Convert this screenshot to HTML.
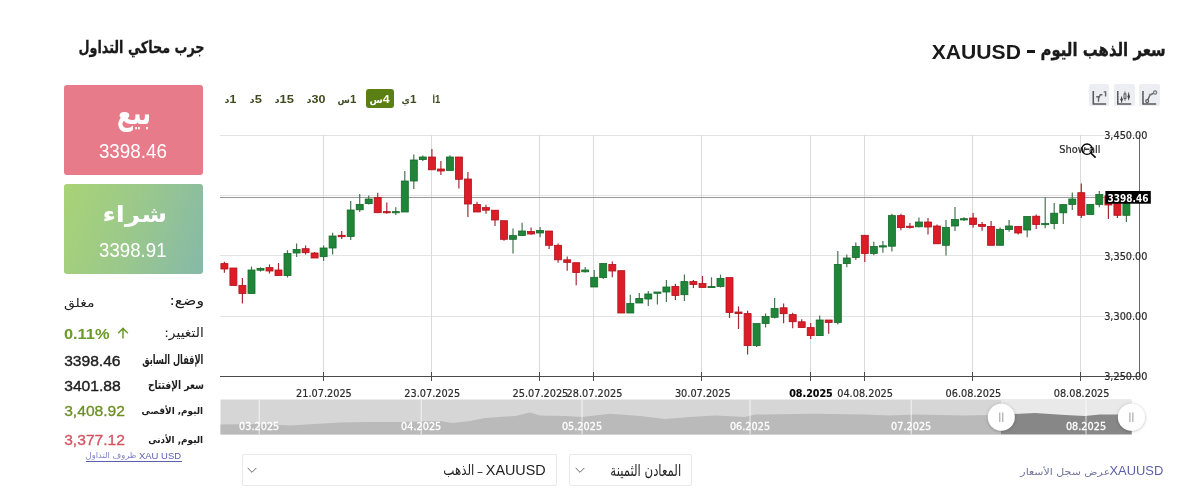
<!DOCTYPE html>
<html lang="ar">
<head>
<meta charset="utf-8">
<title>سعر الذهب اليوم - XAUUSD</title>
<style>
html,body{margin:0;padding:0;background:#fff;}
body{width:1200px;height:495px;position:relative;overflow:hidden;font-family:"Liberation Sans","DejaVu Sans",sans-serif;color:#1c1c1c;}
.abs{position:absolute;white-space:nowrap;line-height:1;}
svg text.ax{font-family:"DejaVu Sans",sans-serif;font-size:10.3px;fill:#2b2b2b;stroke:#2b2b2b;stroke-width:0.2px;}
svg text.b{font-weight:bold;fill:#000;}
svg text.pl{font-family:"DejaVu Sans",sans-serif;font-size:10.1px;font-weight:bold;fill:#fff;}
svg text.sl{font-family:"DejaVu Sans",sans-serif;font-size:10.3px;fill:#fff;stroke:#fff;stroke-width:0.3px;}
.box{position:absolute;left:64.3px;width:138.8px;height:90px;border-radius:3px;}
.sell{top:84.5px;background:#e87b89;}
.buy{top:183.5px;background:linear-gradient(108deg,#a9d376 0%,#9ac88c 50%,#86b9a9 100%);}
.tfa{position:absolute;left:365.5px;top:88.5px;width:28px;height:19.5px;border-radius:3px;background:#5b7f12;}
.ic{position:absolute;top:84.4px;width:20.5px;height:21.5px;background:#eceef3;border-radius:2px;}
.selbox{position:absolute;top:454px;height:29.5px;border:1px solid #e9e9e9;border-radius:2px;background:#fff;}
.ul{position:absolute;height:1px;background:#5a5fb4;}
</style>
</head>
<body>
<div class="box sell"></div>
<div class="box buy"></div>
<div class="tfa"></div>
<div class="abs" style="left:1027.3px;top:50.4px;width:8px;height:2.6px;background:#1a1a1a"></div>

<div class="ic" style="left:1088.7px"><svg width="20.5" height="21.5" viewBox="0 0 20.5 21.5" style="display:block"><path d="M4.3 7V20H17.2" fill="none" stroke="#5a5a5a" stroke-width="1.6"/><path d="M5.1 9h0.8M5.1 11.5h0.8M5.1 14h0.8M5.1 16.5h0.8" stroke="#eceef3" stroke-width="0.9"/><path d="M7.2 12.8H9.5V17.8M9.5 14.8L11.3 10.8H13.4M14.7 7.9H16.6V12.4" fill="none" stroke="#666" stroke-width="1.4"/></svg></div>
<div class="ic" style="left:1114.2px"><svg width="20.5" height="21.5" viewBox="0 0 20.5 21.5" style="display:block"><path d="M3.8 7V20H17.2" fill="none" stroke="#5a5a5a" stroke-width="1.6"/><path d="M4.6 9h0.8M4.6 11.5h0.8M4.6 14h0.8M4.6 16.5h0.8" stroke="#eceef3" stroke-width="0.9"/><path d="M7.6 12.4V18.8M11 7.4V16.8M14.7 8.4V16.2" stroke="#555" stroke-width="0.9"/><path d="M7.6 13L8.9 15.6L7.6 18.2L6.3 15.6Z" fill="#444"/><rect x="10" y="9.8" width="2" height="4.8" fill="#cfd1d6" stroke="#555" stroke-width="0.9"/><path d="M14.7 9.6L16 12.5L14.7 15.4L13.4 12.5Z" fill="#444"/></svg></div>
<div class="ic" style="left:1139.4px"><svg width="20.5" height="21.5" viewBox="0 0 20.5 21.5" style="display:block"><path d="M4.0 7V20H17.2" fill="none" stroke="#5a5a5a" stroke-width="1.6"/><path d="M4.8 9h0.8M4.8 11.5h0.8M4.8 14h0.8M4.8 16.5h0.8" stroke="#eceef3" stroke-width="0.9"/><path d="M8.2 17.1L11.1 10.8L16.1 8.6" fill="none" stroke="#666" stroke-width="1.5"/><circle cx="8.2" cy="17.1" r="1.5" fill="#e4e5ea" stroke="#555" stroke-width="1.1"/><rect x="9.9" y="9.8" width="2.4" height="2.2" fill="#888"/><circle cx="16.1" cy="8.6" r="1.7" fill="#d9dae0" stroke="#777" stroke-width="1.1"/></svg></div>

<svg class="abs" style="left:0;top:0" width="1200" height="495" viewBox="0 0 1200 495">
<defs><filter id="sh" x="-30%" y="-30%" width="160%" height="160%"><feDropShadow dx="0" dy="0.5" stdDeviation="1.5" flood-color="#000" flood-opacity="0.3"/></filter></defs>
<line x1="220" y1="135.5" x2="1139" y2="135.5" stroke="#e3e3e3" stroke-width="1"/>
<line x1="220" y1="195.5" x2="1139" y2="195.5" stroke="#e3e3e3" stroke-width="1"/>
<line x1="220" y1="255.5" x2="1139" y2="255.5" stroke="#e3e3e3" stroke-width="1"/>
<line x1="220" y1="316.5" x2="1139" y2="316.5" stroke="#e3e3e3" stroke-width="1"/>
<line x1="323.5" y1="135" x2="323.5" y2="377" stroke="#dadada" stroke-width="1"/>
<line x1="431.5" y1="135" x2="431.5" y2="377" stroke="#dadada" stroke-width="1"/>
<line x1="539.5" y1="135" x2="539.5" y2="377" stroke="#dadada" stroke-width="1"/>
<line x1="593.5" y1="135" x2="593.5" y2="377" stroke="#dadada" stroke-width="1"/>
<line x1="701.5" y1="135" x2="701.5" y2="377" stroke="#dadada" stroke-width="1"/>
<line x1="810.5" y1="135" x2="810.5" y2="377" stroke="#dadada" stroke-width="1"/>
<line x1="864.5" y1="135" x2="864.5" y2="377" stroke="#dadada" stroke-width="1"/>
<line x1="972.5" y1="135" x2="972.5" y2="377" stroke="#dadada" stroke-width="1"/>
<line x1="1080.5" y1="135" x2="1080.5" y2="377" stroke="#dadada" stroke-width="1"/>
<line x1="220" y1="197.5" x2="1106" y2="197.5" stroke="#9a9a9a" stroke-width="1"/>
<line x1="224.4" y1="261.8" x2="224.4" y2="272.7" stroke="#a62a38" stroke-width="1.2"/>
<rect x="220.9" y="263.6" width="7" height="5.4" fill="#dc1c26" stroke="#b0121c" stroke-width="0.8"/>
<line x1="233.4" y1="268" x2="233.4" y2="285.5" stroke="#a62a38" stroke-width="1.2"/>
<rect x="229.9" y="268" width="7" height="17.5" fill="#dc1c26" stroke="#b0121c" stroke-width="0.8"/>
<line x1="242.4" y1="278" x2="242.4" y2="303.6" stroke="#a62a38" stroke-width="1.2"/>
<rect x="238.9" y="285.5" width="7" height="8" fill="#dc1c26" stroke="#b0121c" stroke-width="0.8"/>
<line x1="251.5" y1="266.5" x2="251.5" y2="293.5" stroke="#4a7454" stroke-width="1.2"/>
<rect x="248" y="270" width="7" height="23.5" fill="#1f8538" stroke="#156a29" stroke-width="0.8"/>
<line x1="260.5" y1="267.3" x2="260.5" y2="271.6" stroke="#4a7454" stroke-width="1.2"/>
<rect x="257" y="268.4" width="7" height="1.8" fill="#1f8538" stroke="#156a29" stroke-width="0.8"/>
<line x1="269.5" y1="264.4" x2="269.5" y2="273.5" stroke="#a62a38" stroke-width="1.2"/>
<rect x="266" y="267.6" width="7" height="3.4" fill="#dc1c26" stroke="#b0121c" stroke-width="0.8"/>
<line x1="278.5" y1="263" x2="278.5" y2="275.6" stroke="#a62a38" stroke-width="1.2"/>
<rect x="275" y="270" width="7" height="5.6" fill="#dc1c26" stroke="#b0121c" stroke-width="0.8"/>
<line x1="287.5" y1="250.2" x2="287.5" y2="277.5" stroke="#4a7454" stroke-width="1.2"/>
<rect x="284" y="253.5" width="7" height="22.1" fill="#1f8538" stroke="#156a29" stroke-width="0.8"/>
<line x1="296.6" y1="243.6" x2="296.6" y2="257" stroke="#4a7454" stroke-width="1.2"/>
<rect x="293.1" y="249.5" width="7" height="3.5" fill="#1f8538" stroke="#156a29" stroke-width="0.8"/>
<line x1="305.6" y1="245.5" x2="305.6" y2="254.5" stroke="#a62a38" stroke-width="1.2"/>
<rect x="302.1" y="248.7" width="7" height="4" fill="#dc1c26" stroke="#b0121c" stroke-width="0.8"/>
<line x1="314.6" y1="252" x2="314.6" y2="258" stroke="#a62a38" stroke-width="1.2"/>
<rect x="311.1" y="253" width="7" height="5" fill="#dc1c26" stroke="#b0121c" stroke-width="0.8"/>
<line x1="323.6" y1="245.5" x2="323.6" y2="261" stroke="#4a7454" stroke-width="1.2"/>
<rect x="320.1" y="248" width="7" height="8.7" fill="#1f8538" stroke="#156a29" stroke-width="0.8"/>
<line x1="332.6" y1="232.7" x2="332.6" y2="254.5" stroke="#4a7454" stroke-width="1.2"/>
<rect x="329.1" y="236" width="7" height="12" fill="#1f8538" stroke="#156a29" stroke-width="0.8"/>
<line x1="341.7" y1="231" x2="341.7" y2="239" stroke="#a62a38" stroke-width="1.2"/>
<rect x="338.2" y="235.3" width="7" height="1.4" fill="#dc1c26" stroke="#b0121c" stroke-width="0.8"/>
<line x1="350.7" y1="201" x2="350.7" y2="240" stroke="#4a7454" stroke-width="1.2"/>
<rect x="347.2" y="210" width="7" height="26.4" fill="#1f8538" stroke="#156a29" stroke-width="0.8"/>
<line x1="359.7" y1="194" x2="359.7" y2="212" stroke="#4a7454" stroke-width="1.2"/>
<rect x="356.2" y="204.4" width="7" height="5.4" fill="#1f8538" stroke="#156a29" stroke-width="0.8"/>
<line x1="368.7" y1="195.6" x2="368.7" y2="204.4" stroke="#4a7454" stroke-width="1.2"/>
<rect x="365.2" y="199" width="7" height="4.6" fill="#1f8538" stroke="#156a29" stroke-width="0.8"/>
<line x1="377.7" y1="192.7" x2="377.7" y2="212.7" stroke="#a62a38" stroke-width="1.2"/>
<rect x="374.2" y="197.5" width="7" height="15.2" fill="#dc1c26" stroke="#b0121c" stroke-width="0.8"/>
<line x1="386.8" y1="202.5" x2="386.8" y2="213.8" stroke="#a62a38" stroke-width="1.2"/>
<rect x="383.3" y="211.6" width="7" height="1.2" fill="#dc1c26" stroke="#b0121c" stroke-width="0.8"/>
<line x1="395.8" y1="207.3" x2="395.8" y2="215" stroke="#4a7454" stroke-width="1.2"/>
<rect x="392.3" y="211.6" width="7" height="1.2" fill="#1f8538" stroke="#156a29" stroke-width="0.8"/>
<line x1="404.8" y1="171" x2="404.8" y2="212" stroke="#4a7454" stroke-width="1.2"/>
<rect x="401.3" y="181" width="7" height="31" fill="#1f8538" stroke="#156a29" stroke-width="0.8"/>
<line x1="413.8" y1="154.5" x2="413.8" y2="189" stroke="#4a7454" stroke-width="1.2"/>
<rect x="410.3" y="160" width="7" height="21" fill="#1f8538" stroke="#156a29" stroke-width="0.8"/>
<line x1="422.8" y1="155.6" x2="422.8" y2="161" stroke="#4a7454" stroke-width="1.2"/>
<rect x="419.3" y="157" width="7" height="2.6" fill="#1f8538" stroke="#156a29" stroke-width="0.8"/>
<line x1="431.9" y1="149" x2="431.9" y2="169.8" stroke="#a62a38" stroke-width="1.2"/>
<rect x="428.4" y="157" width="7" height="12.8" fill="#dc1c26" stroke="#b0121c" stroke-width="0.8"/>
<line x1="440.9" y1="161" x2="440.9" y2="175" stroke="#a62a38" stroke-width="1.2"/>
<rect x="437.4" y="169" width="7" height="2" fill="#dc1c26" stroke="#b0121c" stroke-width="0.8"/>
<line x1="449.9" y1="155.3" x2="449.9" y2="170.5" stroke="#4a7454" stroke-width="1.2"/>
<rect x="446.4" y="157" width="7" height="13.5" fill="#1f8538" stroke="#156a29" stroke-width="0.8"/>
<line x1="458.9" y1="157" x2="458.9" y2="188.4" stroke="#a62a38" stroke-width="1.2"/>
<rect x="455.4" y="157" width="7" height="22.3" fill="#dc1c26" stroke="#b0121c" stroke-width="0.8"/>
<line x1="467.9" y1="172" x2="467.9" y2="217" stroke="#a62a38" stroke-width="1.2"/>
<rect x="464.4" y="179" width="7" height="25" fill="#dc1c26" stroke="#b0121c" stroke-width="0.8"/>
<line x1="477" y1="201.8" x2="477" y2="212" stroke="#a62a38" stroke-width="1.2"/>
<rect x="473.5" y="204.4" width="7" height="7.6" fill="#dc1c26" stroke="#b0121c" stroke-width="0.8"/>
<line x1="486" y1="204.7" x2="486" y2="213.8" stroke="#a62a38" stroke-width="1.2"/>
<rect x="482.5" y="207.6" width="7" height="2.6" fill="#dc1c26" stroke="#b0121c" stroke-width="0.8"/>
<line x1="495" y1="210.2" x2="495" y2="226" stroke="#a62a38" stroke-width="1.2"/>
<rect x="491.5" y="210.2" width="7" height="9.8" fill="#dc1c26" stroke="#b0121c" stroke-width="0.8"/>
<line x1="504" y1="220.7" x2="504" y2="240.7" stroke="#a62a38" stroke-width="1.2"/>
<rect x="500.5" y="220.7" width="7" height="18.6" fill="#dc1c26" stroke="#b0121c" stroke-width="0.8"/>
<line x1="513" y1="228.4" x2="513" y2="253.5" stroke="#4a7454" stroke-width="1.2"/>
<rect x="509.5" y="235.6" width="7" height="3.7" fill="#1f8538" stroke="#156a29" stroke-width="0.8"/>
<line x1="522.1" y1="222.7" x2="522.1" y2="236" stroke="#4a7454" stroke-width="1.2"/>
<rect x="518.6" y="231" width="7" height="4.5" fill="#1f8538" stroke="#156a29" stroke-width="0.8"/>
<line x1="531.1" y1="227.5" x2="531.1" y2="234.7" stroke="#a62a38" stroke-width="1.2"/>
<rect x="527.6" y="231.5" width="7" height="2.5" fill="#dc1c26" stroke="#b0121c" stroke-width="0.8"/>
<line x1="540.1" y1="227" x2="540.1" y2="237.3" stroke="#4a7454" stroke-width="1.2"/>
<rect x="536.6" y="230.4" width="7" height="2.6" fill="#1f8538" stroke="#156a29" stroke-width="0.8"/>
<line x1="549.1" y1="231" x2="549.1" y2="249" stroke="#a62a38" stroke-width="1.2"/>
<rect x="545.6" y="231" width="7" height="14.3" fill="#dc1c26" stroke="#b0121c" stroke-width="0.8"/>
<line x1="558.1" y1="243.5" x2="558.1" y2="262.7" stroke="#a62a38" stroke-width="1.2"/>
<rect x="554.6" y="245.3" width="7" height="14.5" fill="#dc1c26" stroke="#b0121c" stroke-width="0.8"/>
<line x1="567.2" y1="256.5" x2="567.2" y2="270.7" stroke="#a62a38" stroke-width="1.2"/>
<rect x="563.7" y="259.8" width="7" height="2.6" fill="#dc1c26" stroke="#b0121c" stroke-width="0.8"/>
<line x1="576.2" y1="262.7" x2="576.2" y2="285.3" stroke="#a62a38" stroke-width="1.2"/>
<rect x="572.7" y="262.7" width="7" height="9.8" fill="#dc1c26" stroke="#b0121c" stroke-width="0.8"/>
<line x1="585.2" y1="267" x2="585.2" y2="272.5" stroke="#4a7454" stroke-width="1.2"/>
<rect x="581.7" y="270" width="7" height="1.8" fill="#1f8538" stroke="#156a29" stroke-width="0.8"/>
<line x1="594.2" y1="270" x2="594.2" y2="287" stroke="#4a7454" stroke-width="1.2"/>
<rect x="590.7" y="277.3" width="7" height="9.7" fill="#1f8538" stroke="#156a29" stroke-width="0.8"/>
<line x1="603.2" y1="263.5" x2="603.2" y2="279" stroke="#4a7454" stroke-width="1.2"/>
<rect x="599.7" y="263.5" width="7" height="14.1" fill="#1f8538" stroke="#156a29" stroke-width="0.8"/>
<line x1="612.3" y1="261.6" x2="612.3" y2="277.3" stroke="#a62a38" stroke-width="1.2"/>
<rect x="608.8" y="264.5" width="7" height="6.5" fill="#dc1c26" stroke="#b0121c" stroke-width="0.8"/>
<line x1="621.3" y1="270.7" x2="621.3" y2="313" stroke="#a62a38" stroke-width="1.2"/>
<rect x="617.8" y="270.7" width="7" height="42.3" fill="#dc1c26" stroke="#b0121c" stroke-width="0.8"/>
<line x1="630.3" y1="294.7" x2="630.3" y2="313" stroke="#4a7454" stroke-width="1.2"/>
<rect x="626.8" y="303.5" width="7" height="9.5" fill="#1f8538" stroke="#156a29" stroke-width="0.8"/>
<line x1="639.3" y1="293" x2="639.3" y2="303" stroke="#4a7454" stroke-width="1.2"/>
<rect x="635.8" y="298.4" width="7" height="4.6" fill="#1f8538" stroke="#156a29" stroke-width="0.8"/>
<line x1="648.3" y1="291" x2="648.3" y2="306" stroke="#4a7454" stroke-width="1.2"/>
<rect x="644.8" y="294" width="7" height="5" fill="#1f8538" stroke="#156a29" stroke-width="0.8"/>
<line x1="657.4" y1="292" x2="657.4" y2="304.5" stroke="#4a7454" stroke-width="1.2"/>
<rect x="653.9" y="292" width="7" height="1.3" fill="#1f8538" stroke="#156a29" stroke-width="0.8"/>
<line x1="666.4" y1="280" x2="666.4" y2="302" stroke="#4a7454" stroke-width="1.2"/>
<rect x="662.9" y="287" width="7" height="5" fill="#1f8538" stroke="#156a29" stroke-width="0.8"/>
<line x1="675.4" y1="283.8" x2="675.4" y2="300" stroke="#a62a38" stroke-width="1.2"/>
<rect x="671.9" y="286.4" width="7" height="9.1" fill="#dc1c26" stroke="#b0121c" stroke-width="0.8"/>
<line x1="684.4" y1="274.4" x2="684.4" y2="301" stroke="#4a7454" stroke-width="1.2"/>
<rect x="680.9" y="281.6" width="7" height="13.1" fill="#1f8538" stroke="#156a29" stroke-width="0.8"/>
<line x1="693.4" y1="280" x2="693.4" y2="288" stroke="#a62a38" stroke-width="1.2"/>
<rect x="689.9" y="281.6" width="7" height="2.9" fill="#dc1c26" stroke="#b0121c" stroke-width="0.8"/>
<line x1="702.5" y1="276" x2="702.5" y2="287.5" stroke="#a62a38" stroke-width="1.2"/>
<rect x="699" y="283.5" width="7" height="4" fill="#dc1c26" stroke="#b0121c" stroke-width="0.8"/>
<line x1="711.5" y1="277.3" x2="711.5" y2="287.5" stroke="#4a7454" stroke-width="1.2"/>
<rect x="708" y="286.4" width="7" height="1.2" fill="#1f8538" stroke="#156a29" stroke-width="0.8"/>
<line x1="720.5" y1="274.7" x2="720.5" y2="287.5" stroke="#4a7454" stroke-width="1.2"/>
<rect x="717" y="278.4" width="7" height="8" fill="#1f8538" stroke="#156a29" stroke-width="0.8"/>
<line x1="729.5" y1="277.6" x2="729.5" y2="318" stroke="#a62a38" stroke-width="1.2"/>
<rect x="726" y="277.6" width="7" height="34.9" fill="#dc1c26" stroke="#b0121c" stroke-width="0.8"/>
<line x1="738.5" y1="306.4" x2="738.5" y2="329" stroke="#a62a38" stroke-width="1.2"/>
<rect x="735" y="312" width="7" height="1.6" fill="#dc1c26" stroke="#b0121c" stroke-width="0.8"/>
<line x1="747.6" y1="310.7" x2="747.6" y2="354.4" stroke="#a62a38" stroke-width="1.2"/>
<rect x="744.1" y="313.6" width="7" height="32" fill="#dc1c26" stroke="#b0121c" stroke-width="0.8"/>
<line x1="756.6" y1="323.5" x2="756.6" y2="347" stroke="#4a7454" stroke-width="1.2"/>
<rect x="753.1" y="323.5" width="7" height="22.1" fill="#1f8538" stroke="#156a29" stroke-width="0.8"/>
<line x1="765.6" y1="313.6" x2="765.6" y2="327.5" stroke="#4a7454" stroke-width="1.2"/>
<rect x="762.1" y="316.5" width="7" height="7" fill="#1f8538" stroke="#156a29" stroke-width="0.8"/>
<line x1="774.6" y1="298" x2="774.6" y2="318.4" stroke="#4a7454" stroke-width="1.2"/>
<rect x="771.1" y="308.5" width="7" height="8.8" fill="#1f8538" stroke="#156a29" stroke-width="0.8"/>
<line x1="783.6" y1="303.5" x2="783.6" y2="323.2" stroke="#a62a38" stroke-width="1.2"/>
<rect x="780.1" y="307.8" width="7" height="5.9" fill="#dc1c26" stroke="#b0121c" stroke-width="0.8"/>
<line x1="792.7" y1="312.7" x2="792.7" y2="328.2" stroke="#a62a38" stroke-width="1.2"/>
<rect x="789.2" y="314.6" width="7" height="7.1" fill="#dc1c26" stroke="#b0121c" stroke-width="0.8"/>
<line x1="801.7" y1="319.3" x2="801.7" y2="327.6" stroke="#a62a38" stroke-width="1.2"/>
<rect x="798.2" y="321.8" width="7" height="5.8" fill="#dc1c26" stroke="#b0121c" stroke-width="0.8"/>
<line x1="810.7" y1="323" x2="810.7" y2="339" stroke="#a62a38" stroke-width="1.2"/>
<rect x="807.2" y="327.6" width="7" height="8" fill="#dc1c26" stroke="#b0121c" stroke-width="0.8"/>
<line x1="819.7" y1="315.6" x2="819.7" y2="335.6" stroke="#4a7454" stroke-width="1.2"/>
<rect x="816.2" y="320" width="7" height="15.6" fill="#1f8538" stroke="#156a29" stroke-width="0.8"/>
<line x1="828.7" y1="320" x2="828.7" y2="333.8" stroke="#a62a38" stroke-width="1.2"/>
<rect x="825.2" y="320" width="7" height="2.5" fill="#dc1c26" stroke="#b0121c" stroke-width="0.8"/>
<line x1="837.8" y1="251" x2="837.8" y2="324.4" stroke="#4a7454" stroke-width="1.2"/>
<rect x="834.3" y="264.4" width="7" height="58.1" fill="#1f8538" stroke="#156a29" stroke-width="0.8"/>
<line x1="846.8" y1="254.5" x2="846.8" y2="267.3" stroke="#4a7454" stroke-width="1.2"/>
<rect x="843.3" y="258" width="7" height="5.6" fill="#1f8538" stroke="#156a29" stroke-width="0.8"/>
<line x1="855.8" y1="242.5" x2="855.8" y2="260" stroke="#4a7454" stroke-width="1.2"/>
<rect x="852.3" y="246.5" width="7" height="11" fill="#1f8538" stroke="#156a29" stroke-width="0.8"/>
<line x1="864.8" y1="235.3" x2="864.8" y2="262" stroke="#a62a38" stroke-width="1.2"/>
<rect x="861.3" y="235.3" width="7" height="18.2" fill="#dc1c26" stroke="#b0121c" stroke-width="0.8"/>
<line x1="873.8" y1="241.8" x2="873.8" y2="255.3" stroke="#4a7454" stroke-width="1.2"/>
<rect x="870.3" y="246.5" width="7" height="7" fill="#1f8538" stroke="#156a29" stroke-width="0.8"/>
<line x1="882.9" y1="241" x2="882.9" y2="252.7" stroke="#4a7454" stroke-width="1.2"/>
<rect x="879.4" y="245.8" width="7" height="1.2" fill="#1f8538" stroke="#156a29" stroke-width="0.8"/>
<line x1="891.9" y1="213.8" x2="891.9" y2="251.6" stroke="#4a7454" stroke-width="1.2"/>
<rect x="888.4" y="215.6" width="7" height="30.6" fill="#1f8538" stroke="#156a29" stroke-width="0.8"/>
<line x1="900.9" y1="213.8" x2="900.9" y2="230.2" stroke="#a62a38" stroke-width="1.2"/>
<rect x="897.4" y="215.6" width="7" height="12" fill="#dc1c26" stroke="#b0121c" stroke-width="0.8"/>
<line x1="909.9" y1="223" x2="909.9" y2="228.4" stroke="#a62a38" stroke-width="1.2"/>
<rect x="906.4" y="226.2" width="7" height="1.2" fill="#dc1c26" stroke="#b0121c" stroke-width="0.8"/>
<line x1="918.9" y1="217.5" x2="918.9" y2="227.3" stroke="#4a7454" stroke-width="1.2"/>
<rect x="915.4" y="222" width="7" height="4.8" fill="#1f8538" stroke="#156a29" stroke-width="0.8"/>
<line x1="928" y1="218" x2="928" y2="234.6" stroke="#a62a38" stroke-width="1.2"/>
<rect x="924.5" y="222" width="7" height="5" fill="#dc1c26" stroke="#b0121c" stroke-width="0.8"/>
<line x1="937" y1="224.5" x2="937" y2="243.8" stroke="#a62a38" stroke-width="1.2"/>
<rect x="933.5" y="226" width="7" height="17.8" fill="#dc1c26" stroke="#b0121c" stroke-width="0.8"/>
<line x1="946" y1="220" x2="946" y2="255.5" stroke="#4a7454" stroke-width="1.2"/>
<rect x="942.5" y="227.5" width="7" height="17.8" fill="#1f8538" stroke="#156a29" stroke-width="0.8"/>
<line x1="955" y1="207" x2="955" y2="231" stroke="#4a7454" stroke-width="1.2"/>
<rect x="951.5" y="219.5" width="7" height="6.5" fill="#1f8538" stroke="#156a29" stroke-width="0.8"/>
<line x1="964" y1="217.3" x2="964" y2="221" stroke="#4a7454" stroke-width="1.2"/>
<rect x="960.5" y="218.7" width="7" height="1.2" fill="#1f8538" stroke="#156a29" stroke-width="0.8"/>
<line x1="973.1" y1="213" x2="973.1" y2="227.5" stroke="#a62a38" stroke-width="1.2"/>
<rect x="969.6" y="218" width="7" height="6.5" fill="#dc1c26" stroke="#b0121c" stroke-width="0.8"/>
<line x1="982.1" y1="222" x2="982.1" y2="230.7" stroke="#a62a38" stroke-width="1.2"/>
<rect x="978.6" y="224.5" width="7" height="1.9" fill="#dc1c26" stroke="#b0121c" stroke-width="0.8"/>
<line x1="991.1" y1="221" x2="991.1" y2="245.3" stroke="#a62a38" stroke-width="1.2"/>
<rect x="987.6" y="226.4" width="7" height="18.9" fill="#dc1c26" stroke="#b0121c" stroke-width="0.8"/>
<line x1="1000.1" y1="227.5" x2="1000.1" y2="245.3" stroke="#4a7454" stroke-width="1.2"/>
<rect x="996.6" y="229.3" width="7" height="16" fill="#1f8538" stroke="#156a29" stroke-width="0.8"/>
<line x1="1009.1" y1="220" x2="1009.1" y2="231.8" stroke="#4a7454" stroke-width="1.2"/>
<rect x="1005.6" y="226" width="7" height="3.6" fill="#1f8538" stroke="#156a29" stroke-width="0.8"/>
<line x1="1018.2" y1="226.4" x2="1018.2" y2="234.4" stroke="#a62a38" stroke-width="1.2"/>
<rect x="1014.7" y="226.4" width="7" height="6.6" fill="#dc1c26" stroke="#b0121c" stroke-width="0.8"/>
<line x1="1027.2" y1="216.5" x2="1027.2" y2="237.3" stroke="#4a7454" stroke-width="1.2"/>
<rect x="1023.7" y="216.5" width="7" height="13.5" fill="#1f8538" stroke="#156a29" stroke-width="0.8"/>
<line x1="1036.2" y1="214.4" x2="1036.2" y2="229" stroke="#a62a38" stroke-width="1.2"/>
<rect x="1032.7" y="216.2" width="7" height="8.3" fill="#dc1c26" stroke="#b0121c" stroke-width="0.8"/>
<line x1="1045.2" y1="197.3" x2="1045.2" y2="228.2" stroke="#4a7454" stroke-width="1.2"/>
<rect x="1041.7" y="223.5" width="7" height="1.2" fill="#1f8538" stroke="#156a29" stroke-width="0.8"/>
<line x1="1054.2" y1="203" x2="1054.2" y2="229.2" stroke="#4a7454" stroke-width="1.2"/>
<rect x="1050.7" y="213.2" width="7" height="10.4" fill="#1f8538" stroke="#156a29" stroke-width="0.8"/>
<line x1="1063.3" y1="204.6" x2="1063.3" y2="224" stroke="#4a7454" stroke-width="1.2"/>
<rect x="1059.8" y="204.6" width="7" height="8.2" fill="#1f8538" stroke="#156a29" stroke-width="0.8"/>
<line x1="1072.3" y1="192.6" x2="1072.3" y2="210" stroke="#4a7454" stroke-width="1.2"/>
<rect x="1068.8" y="199" width="7" height="5.4" fill="#1f8538" stroke="#156a29" stroke-width="0.8"/>
<line x1="1081.3" y1="183.6" x2="1081.3" y2="218" stroke="#a62a38" stroke-width="1.2"/>
<rect x="1077.8" y="192.7" width="7" height="22.6" fill="#dc1c26" stroke="#b0121c" stroke-width="0.8"/>
<line x1="1090.3" y1="204.4" x2="1090.3" y2="214.5" stroke="#4a7454" stroke-width="1.2"/>
<rect x="1086.8" y="204.4" width="7" height="10.1" fill="#1f8538" stroke="#156a29" stroke-width="0.8"/>
<line x1="1099.3" y1="191" x2="1099.3" y2="207.3" stroke="#4a7454" stroke-width="1.2"/>
<rect x="1095.8" y="194.5" width="7" height="9.9" fill="#1f8538" stroke="#156a29" stroke-width="0.8"/>
<line x1="1108.4" y1="196" x2="1108.4" y2="219" stroke="#a62a38" stroke-width="1.2"/>
<rect x="1104.9" y="196" width="7" height="9" fill="#dc1c26" stroke="#b0121c" stroke-width="0.8"/>
<line x1="1117.4" y1="203.6" x2="1117.4" y2="218" stroke="#a62a38" stroke-width="1.2"/>
<rect x="1113.9" y="203.6" width="7" height="11.7" fill="#dc1c26" stroke="#b0121c" stroke-width="0.8"/>
<line x1="1126.4" y1="203.6" x2="1126.4" y2="222" stroke="#4a7454" stroke-width="1.2"/>
<rect x="1122.9" y="203.6" width="7" height="11.7" fill="#1f8538" stroke="#156a29" stroke-width="0.8"/>
<line x1="220" y1="376.5" x2="1140" y2="376.5" stroke="#4a4a4a" stroke-width="1"/>
<line x1="1139.5" y1="135" x2="1139.5" y2="377" stroke="#6a6a6a" stroke-width="1"/>
<line x1="323.5" y1="372" x2="323.5" y2="381" stroke="#4a4a4a" stroke-width="1"/>
<line x1="431.5" y1="372" x2="431.5" y2="381" stroke="#4a4a4a" stroke-width="1"/>
<line x1="539.5" y1="372" x2="539.5" y2="381" stroke="#4a4a4a" stroke-width="1"/>
<line x1="593.5" y1="372" x2="593.5" y2="381" stroke="#4a4a4a" stroke-width="1"/>
<line x1="701.5" y1="372" x2="701.5" y2="381" stroke="#4a4a4a" stroke-width="1"/>
<line x1="810.5" y1="372" x2="810.5" y2="381" stroke="#4a4a4a" stroke-width="1"/>
<line x1="864.5" y1="372" x2="864.5" y2="381" stroke="#4a4a4a" stroke-width="1"/>
<line x1="972.5" y1="372" x2="972.5" y2="381" stroke="#4a4a4a" stroke-width="1"/>
<line x1="1080.5" y1="372" x2="1080.5" y2="381" stroke="#4a4a4a" stroke-width="1"/>
<text x="1147.5" y="139.29999999999998" text-anchor="end" textLength="43.3" lengthAdjust="spacingAndGlyphs" class="ax">3,450.00</text>
<text x="1147.5" y="259.7" text-anchor="end" textLength="43.3" lengthAdjust="spacingAndGlyphs" class="ax">3,350.00</text>
<text x="1147.5" y="320.09999999999997" text-anchor="end" textLength="43.3" lengthAdjust="spacingAndGlyphs" class="ax">3,300.00</text>
<text x="1147.5" y="380.3" text-anchor="end" textLength="43.3" lengthAdjust="spacingAndGlyphs" class="ax">3,250.00</text>
<text x="323.9" y="397" text-anchor="middle" textLength="55.8" lengthAdjust="spacingAndGlyphs" class="ax">21.07.2025</text>
<text x="432.2" y="397" text-anchor="middle" textLength="55.8" lengthAdjust="spacingAndGlyphs" class="ax">23.07.2025</text>
<text x="540.4" y="397" text-anchor="middle" textLength="55.8" lengthAdjust="spacingAndGlyphs" class="ax">25.07.2025</text>
<text x="594.5" y="397" text-anchor="middle" textLength="55.8" lengthAdjust="spacingAndGlyphs" class="ax">28.07.2025</text>
<text x="702.8" y="397" text-anchor="middle" textLength="55.8" lengthAdjust="spacingAndGlyphs" class="ax">30.07.2025</text>
<text x="811" y="397" text-anchor="middle" textLength="43.6" lengthAdjust="spacingAndGlyphs" class="ax b">08.2025</text>
<text x="865.1" y="397" text-anchor="middle" textLength="55.8" lengthAdjust="spacingAndGlyphs" class="ax">04.08.2025</text>
<text x="973.4" y="397" text-anchor="middle" textLength="55.8" lengthAdjust="spacingAndGlyphs" class="ax">06.08.2025</text>
<text x="1081.6" y="397" text-anchor="middle" textLength="55.8" lengthAdjust="spacingAndGlyphs" class="ax">08.08.2025</text>
<rect x="1105.4" y="191" width="45.4" height="12.7" fill="#000"/>
<text x="1128" y="201.7" text-anchor="middle" textLength="41" lengthAdjust="spacingAndGlyphs" class="pl">3398.46</text>
<text x="1059.3" y="152.8" textLength="41.2" lengthAdjust="spacingAndGlyphs" class="ax">Show all</text>
<circle cx="1087" cy="149.2" r="5.2" fill="none" stroke="#000" stroke-width="1.3"/>
<line x1="1090.8" y1="153" x2="1095.6" y2="157.6" stroke="#000" stroke-width="1.7"/>
<line x1="1084.6" y1="149.2" x2="1089.4" y2="149.2" stroke="#000" stroke-width="1.2"/>
<rect x="220.5" y="399.5" width="911" height="35" fill="#d6d6d6"/>
<polygon points="220.5,424.5 260,424 290,425.5 340,422.5 365,422 400,422 440,421 452,423 470,421 485,418 515,416 530,412.5 540,415.5 565,416 582,417 610,413.8 640,416 665,419 690,417 715,415.5 745,417 755,414.5 815,413.8 865,414.5 890,415.5 915,414.5 940,415 965,415.5 990,415 1001,414.5 1020,413.8 1035,413 1065,415 1085,416 1100,414.5 1132,414.5 1132,434.5 220.5,434.5" fill="#bababa"/>
<clipPath id="sel"><rect x="1001" y="399.5" width="130.5" height="35"/></clipPath>
<g clip-path="url(#sel)"><rect x="1001" y="399.5" width="130.5" height="35" fill="#e9e9e9"/>
<polygon points="220.5,424.5 260,424 290,425.5 340,422.5 365,422 400,422 440,421 452,423 470,421 485,418 515,416 530,412.5 540,415.5 565,416 582,417 610,413.8 640,416 665,419 690,417 715,415.5 745,417 755,414.5 815,413.8 865,414.5 890,415.5 915,414.5 940,415 965,415.5 990,415 1001,414.5 1020,413.8 1035,413 1065,415 1085,416 1100,414.5 1132,414.5 1132,434.5 220.5,434.5" fill="#878787"/></g>
<line x1="259.2" y1="400" x2="259.2" y2="434.5" stroke="#fff" stroke-opacity="0.75" stroke-width="1"/>
<text x="259.2" y="429.6" text-anchor="middle" textLength="40.2" lengthAdjust="spacingAndGlyphs" class="sl">03.2025</text>
<line x1="421.2" y1="400" x2="421.2" y2="434.5" stroke="#fff" stroke-opacity="0.75" stroke-width="1"/>
<text x="421.2" y="429.6" text-anchor="middle" textLength="40.2" lengthAdjust="spacingAndGlyphs" class="sl">04.2025</text>
<line x1="582" y1="400" x2="582" y2="434.5" stroke="#fff" stroke-opacity="0.75" stroke-width="1"/>
<text x="582" y="429.6" text-anchor="middle" textLength="40.2" lengthAdjust="spacingAndGlyphs" class="sl">05.2025</text>
<line x1="750" y1="400" x2="750" y2="434.5" stroke="#fff" stroke-opacity="0.75" stroke-width="1"/>
<text x="750" y="429.6" text-anchor="middle" textLength="40.2" lengthAdjust="spacingAndGlyphs" class="sl">06.2025</text>
<line x1="911.2" y1="400" x2="911.2" y2="434.5" stroke="#fff" stroke-opacity="0.75" stroke-width="1"/>
<text x="911.2" y="429.6" text-anchor="middle" textLength="40.2" lengthAdjust="spacingAndGlyphs" class="sl">07.2025</text>
<line x1="1086" y1="400" x2="1086" y2="434.5" stroke="#fff" stroke-opacity="0.75" stroke-width="1"/>
<text x="1086" y="429.6" text-anchor="middle" textLength="40.2" lengthAdjust="spacingAndGlyphs" class="sl">08.2025</text>
<circle cx="1001.3" cy="417.3" r="13.5" fill="#fff" filter="url(#sh)"/>
<line x1="999.8" y1="412.5" x2="999.8" y2="422" stroke="#9a9a9a" stroke-width="1"/>
<line x1="1002.8" y1="412.5" x2="1002.8" y2="422" stroke="#9a9a9a" stroke-width="1"/>
<circle cx="1131.4" cy="417.3" r="13.5" fill="#fff" filter="url(#sh)"/>
<line x1="1129.9" y1="412.5" x2="1129.9" y2="422" stroke="#9a9a9a" stroke-width="1"/>
<line x1="1132.9" y1="412.5" x2="1132.9" y2="422" stroke="#9a9a9a" stroke-width="1"/>
</svg>

<div class="selbox" style="left:242px;width:313px"></div>
<div class="selbox" style="left:569px;width:121px"></div>
<svg class="abs" style="left:247px;top:467px" width="10" height="7" viewBox="0 0 10 7"><path d="M0.7 1L5 5.3L9.3 1" fill="none" stroke="#666" stroke-width="1"/></svg>
<svg class="abs" style="left:574.5px;top:467px" width="10" height="7" viewBox="0 0 10 7"><path d="M0.7 1L5 5.3L9.3 1" fill="none" stroke="#666" stroke-width="1"/></svg>
<div class="ul" style="left:86px;width:95.5px;top:460.5px"></div>
<div class="abs" id="t1a" style="left:0;top:0;transform-origin:0 0;transform:translate(1040.48px,40.80px) scale(0.820,1);font-family:'DejaVu Sans','Liberation Sans',sans-serif;font-size:18.2px;direction:rtl;font-weight:bold;color:#1a1a1a;-webkit-text-stroke:0.35px #1a1a1a;">سعر الذهب اليوم</div>
<div class="abs" id="t1b" style="left:0;top:0;transform-origin:0 0;transform:translate(931.75px,41.23px) scale(1.006,1);font-family:'Liberation Sans','DejaVu Sans',sans-serif;font-size:21px;font-weight:bold;color:#1a1a1a;">XAUUSD</div>
<div class="abs" id="t2" style="left:0;top:0;transform-origin:0 0;transform:translate(78.40px,39.42px) scale(0.797,1.034);font-family:'DejaVu Sans','Liberation Sans',sans-serif;font-size:16px;direction:rtl;font-weight:bold;color:#1a1a1a;-webkit-text-stroke:0.3px #1a1a1a;">جرب محاكي التداول</div>
<div class="abs" style="left:0;top:0;transform-origin:0 0;transform:translate(117.07px,96.88px) scale(0.887,1.218);font-family:'DejaVu Sans','Liberation Sans',sans-serif;font-size:26px;direction:rtl;font-weight:bold;color:#fff;">بيع</div>
<div class="abs" style="left:0;top:0;transform-origin:0 0;transform:translate(102.40px,204.26px) scale(1.198,0.991);font-family:'DejaVu Sans','Liberation Sans',sans-serif;font-size:22px;direction:rtl;font-weight:bold;color:#fff;">شراء</div>
<div class="abs" style="left:0;top:0;transform-origin:0 0;transform:translate(98.88px,141.72px) scale(0.960,1);font-family:'Liberation Sans','DejaVu Sans',sans-serif;font-size:19.6px;color:#fff;">3398.46</div>
<div class="abs" style="left:0;top:0;transform-origin:0 0;transform:translate(99.09px,240.52px) scale(0.952,1);font-family:'Liberation Sans','DejaVu Sans',sans-serif;font-size:19.6px;color:#fff;">3398.91</div>
<div class="abs" style="left:0;top:0;transform-origin:0 0;transform:translate(224.46px,94.47px) scale(1.073,1);font-family:'Liberation Sans','DejaVu Sans',sans-serif;font-size:11.5px;direction:rtl;color:#3e4a1f;font-weight:bold;">1<span style="font-size:9px">د</span></div>
<div class="abs" style="left:0;top:0;transform-origin:0 0;transform:translate(249.44px,94.47px) scale(1.122,1);font-family:'Liberation Sans','DejaVu Sans',sans-serif;font-size:11.5px;direction:rtl;color:#3e4a1f;font-weight:bold;">5<span style="font-size:9px">د</span></div>
<div class="abs" style="left:0;top:0;transform-origin:0 0;transform:translate(274.44px,94.47px) scale(1.121,1);font-family:'Liberation Sans','DejaVu Sans',sans-serif;font-size:11.5px;direction:rtl;color:#3e4a1f;font-weight:bold;">15<span style="font-size:9px">د</span></div>
<div class="abs" style="left:0;top:0;transform-origin:0 0;transform:translate(306.45px,94.47px) scale(1.091,1);font-family:'Liberation Sans','DejaVu Sans',sans-serif;font-size:11.5px;direction:rtl;color:#3e4a1f;font-weight:bold;">30<span style="font-size:9px">د</span></div>
<div class="abs" style="left:0;top:0;transform-origin:0 0;transform:translate(337.50px,94.47px) scale(1.000,1);font-family:'Liberation Sans','DejaVu Sans',sans-serif;font-size:11.5px;direction:rtl;color:#3e4a1f;font-weight:bold;">1<span style="font-size:9px">س</span></div>
<div class="abs" style="left:0;top:0;transform-origin:0 0;transform:translate(369.47px,94.47px) scale(1.068,1);font-family:'Liberation Sans','DejaVu Sans',sans-serif;font-size:11.5px;direction:rtl;color:#fff;font-weight:bold;">4<span style="font-size:9px">س</span></div>
<div class="abs" style="left:0;top:0;transform-origin:0 0;transform:translate(401.49px,94.47px) scale(1.018,1);font-family:'Liberation Sans','DejaVu Sans',sans-serif;font-size:11.5px;direction:rtl;color:#3e4a1f;font-weight:bold;">1<span style="font-size:9px">ي</span></div>
<div class="abs" style="left:0;top:0;transform-origin:0 0;transform:translate(432.38px,94.47px) scale(0.824,1);font-family:'Liberation Sans','DejaVu Sans',sans-serif;font-size:11.5px;direction:rtl;color:#3e4a1f;font-weight:bold;">1<span style="font-size:9px">أ</span></div>
<div class="abs" style="left:0;top:0;transform-origin:0 0;transform:translate(169.42px,294.16px) scale(1.256,1.097);font-family:'DejaVu Sans','Liberation Sans',sans-serif;font-size:12.5px;direction:rtl;color:#1c1c1c;">وضع:</div>
<div class="abs" style="left:0;top:0;transform-origin:0 0;transform:translate(63.89px,297.07px) scale(1.075,0.928);font-family:'DejaVu Sans','Liberation Sans',sans-serif;font-size:13px;direction:rtl;color:#1c1c1c;">مغلق</div>
<div class="abs" style="left:0;top:0;transform-origin:0 0;transform:translate(164.14px,326.88px) scale(1.109,1.032);font-family:'DejaVu Sans','Liberation Sans',sans-serif;font-size:12.5px;direction:rtl;color:#1c1c1c;">التغيير:</div>
<div class="abs" style="left:0;top:0;transform-origin:0 0;transform:translate(63.95px,325.61px) scale(1.092,1);font-family:'Liberation Sans','DejaVu Sans',sans-serif;font-size:15px;font-weight:bold;color:#6b9a2c;">0.11%</div>
<svg class="abs" style="left:116px;top:326px" width="14" height="14" viewBox="0 0 14 14"><path d="M7 12.6V2.6M2.2 7.2L7 2.4L11.8 7.2" fill="none" stroke="#6b9a2c" stroke-width="1.5"/></svg>
<div class="abs" style="left:0;top:0;transform-origin:0 0;transform:translate(142.23px,353.22px) scale(0.747,1.173);font-family:'DejaVu Sans','Liberation Sans',sans-serif;font-size:11px;direction:rtl;font-weight:bold;color:#1c1c1c;">الإقفال السابق</div>
<div class="abs" style="left:0;top:0;transform-origin:0 0;transform:translate(64.18px,353.01px) scale(1.038,1);font-family:'Liberation Sans','DejaVu Sans',sans-serif;font-size:15px;color:#1c1c1c;-webkit-text-stroke:0.4px #222;">3398.46</div>
<div class="abs" style="left:0;top:0;transform-origin:0 0;transform:translate(147.88px,380.04px) scale(0.826,1.018);font-family:'DejaVu Sans','Liberation Sans',sans-serif;font-size:11px;direction:rtl;font-weight:bold;color:#1c1c1c;">سعر الإفتتاح</div>
<div class="abs" style="left:0;top:0;transform-origin:0 0;transform:translate(64.18px,378.01px) scale(1.044,1);font-family:'Liberation Sans','DejaVu Sans',sans-serif;font-size:15px;color:#1c1c1c;-webkit-text-stroke:0.4px #222;">3401.88</div>
<div class="abs" style="left:0;top:0;transform-origin:0 0;transform:translate(141.60px,406.07px) scale(0.804,0.845);font-family:'DejaVu Sans','Liberation Sans',sans-serif;font-size:11px;direction:rtl;font-weight:bold;color:#1c1c1c;">اليوم, الأقصى</div>
<div class="abs" style="left:0;top:0;transform-origin:0 0;transform:translate(64.18px,403.01px) scale(1.041,1);font-family:'Liberation Sans','DejaVu Sans',sans-serif;font-size:15px;color:#6c8f24;-webkit-text-stroke:0.3px #6c8f24;">3,408.92</div>
<div class="abs" style="left:0;top:0;transform-origin:0 0;transform:translate(148.20px,434.71px) scale(0.805,0.875);font-family:'DejaVu Sans','Liberation Sans',sans-serif;font-size:11px;direction:rtl;font-weight:bold;color:#1c1c1c;">اليوم, الأدنى</div>
<div class="abs" style="left:0;top:0;transform-origin:0 0;transform:translate(64.18px,431.91px) scale(1.041,1);font-family:'Liberation Sans','DejaVu Sans',sans-serif;font-size:15px;color:#d4545f;-webkit-text-stroke:0.3px #d4545f;">3,377.12</div>
<div class="abs" style="left:0;top:0;transform-origin:0 0;transform:translate(138.95px,450.75px) scale(1.012,1);font-family:'Liberation Sans','DejaVu Sans',sans-serif;font-size:9.4px;color:#5a5fb4;">XAU USD</div>
<div class="abs" style="left:0;top:0;transform-origin:0 0;transform:translate(85.54px,451.16px) scale(0.882,0.854);font-family:'DejaVu Sans','Liberation Sans',sans-serif;font-size:9.5px;direction:rtl;color:#7f83c6;">ظروف التداول</div>
<div class="abs" style="left:0;top:0;transform-origin:0 0;transform:translate(443.37px,462.99px) scale(0.835,1);font-family:'DejaVu Sans','Liberation Sans',sans-serif;font-size:14.2px;direction:rtl;color:#222;">الذهب</div>
<div class="abs" style="left:0;top:0;transform-origin:0 0;transform:translate(476.67px,465.39px) scale(1.371,0.8);font-family:'Liberation Sans','DejaVu Sans',sans-serif;font-size:14.5px;color:#222;">-</div>
<div class="abs" style="left:0;top:0;transform-origin:0 0;transform:translate(485.80px,463.13px) scale(0.991,1);font-family:'Liberation Sans','DejaVu Sans',sans-serif;font-size:14.5px;color:#222;">XAUUSD</div>
<div class="abs" style="left:0;top:0;transform-origin:0 0;transform:translate(610.36px,462.14px) scale(0.836,1.169);font-family:'DejaVu Sans','Liberation Sans',sans-serif;font-size:14px;direction:rtl;color:#222;">المعادن الثمينة</div>
<div class="abs" style="left:0;top:0;transform-origin:0 0;transform:translate(1109.52px,464.38px) scale(0.955,1);font-family:'Liberation Sans','DejaVu Sans',sans-serif;font-size:13.5px;color:#5b5fa8;">XAUUSD</div>
<div class="abs" style="left:0;top:0;transform-origin:0 0;transform:translate(1020.36px,467.17px) scale(0.914,0.779);font-family:'DejaVu Sans','Liberation Sans',sans-serif;font-size:12px;direction:rtl;color:#70739a;">عرض سجل الأسعار</div>
</body>
</html>
